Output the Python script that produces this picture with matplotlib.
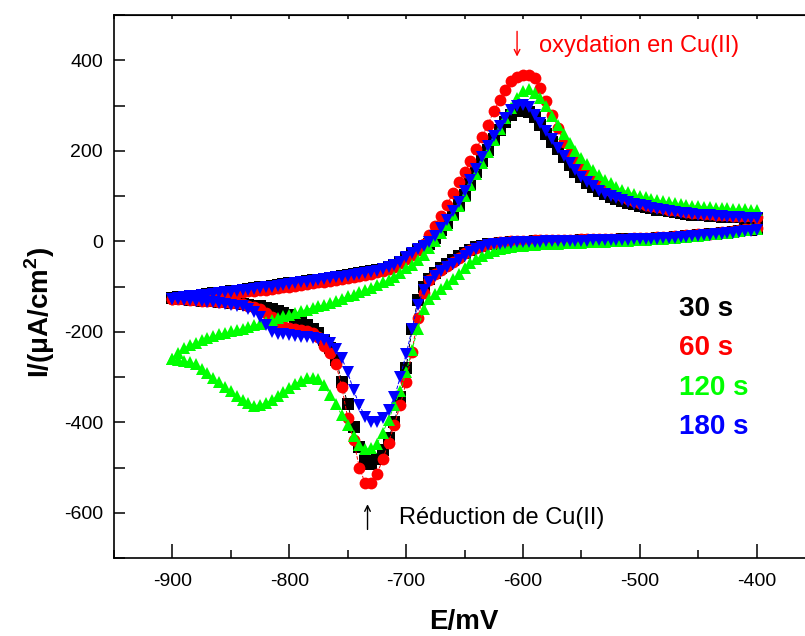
import matplotlib
matplotlib.use("Agg")
import matplotlib.pyplot as plt
from matplotlib.ticker import MultipleLocator

plt.rcParams['font.family'] = ['Liberation Sans', 'DejaVu Sans']
plt.rcParams['mathtext.fontset'] = 'custom'
plt.rcParams['mathtext.rm'] = 'Liberation Sans'
plt.rcParams['mathtext.bf'] = 'Liberation Sans:bold'
plt.rcParams['axes.unicode_minus'] = False

# potential of the cathodic scan (mV), the anodic scan runs back over it
E_cathodic = [-400, -405, -410, -415, -420, -425, -430, -435, -440, -445,
              -450, -455, -460, -465, -470, -475, -480, -485, -490, -495,
              -500, -505, -510, -515, -520, -525, -530, -535, -540, -545,
              -550, -555, -560, -565, -570, -575, -580, -585, -590, -595,
              -600, -605, -610, -615, -620, -625, -630, -635, -640, -645,
              -650, -655, -660, -665, -670, -675, -680, -685, -690, -695,
              -700, -705, -710, -715, -720, -725, -730, -735, -740, -745,
              -750, -755, -760, -765, -770, -775, -780, -785, -790, -795,
              -800, -805, -810, -815, -820, -825, -830, -835, -840, -845,
              -850, -855, -860, -865, -870, -875, -880, -885, -890, -895, -900]
E_anodic = E_cathodic[::-1]

# current densities (uA/cm2)
i30_cath = [27, 25, 24, 22, 21, 19, 18, 16, 15, 14,
            13, 12, 11, 10, 9, 8, 7, 7, 6, 5,
            5, 4, 4, 4, 3, 3, 3, 2, 2, 2,
            2, 1, 1, 1, 1, 0, 0, 0, 0, -1,
            -1, -1, -2, -3, -4, -5, -7, -10, -13, -19,
            -25, -33, -42, -51, -60, -70, -83, -100, -130, -195,
            -280, -345, -400, -435, -462, -482, -493, -485, -455, -410,
            -360, -310, -262, -235, -218, -203, -193, -184, -176, -169,
            -163, -158, -154, -150, -147, -144, -142, -140, -138, -137,
            -136, -135, -134, -133, -132, -131, -130, -129, -128, -127, -126]
i30_anod = [-126, -124, -123, -121, -120, -118, -117, -115, -114, -112,
            -111, -109, -107, -106, -104, -102, -100, -99, -97, -95,
            -93, -92, -90, -88, -86, -85, -83, -81, -79, -77,
            -75, -73, -71, -69, -66, -64, -61, -57, -52, -45,
            -37, -29, -20, -13, -5, 8, 25, 41, 60, 81,
            103, 127, 152, 177, 202, 225, 245, 263, 278, 287,
            290, 285, 274, 257, 238, 220, 203, 186, 169, 154,
            141, 129, 119, 111, 104, 98, 93, 89, 85, 82,
            79, 76, 73, 70, 68, 66, 64, 62, 61, 59,
            58, 57, 56, 55, 54, 54, 53, 53, 52, 52, 51]

i60_cath = [30, 28, 26, 24, 23, 21, 20, 18, 17, 16,
            15, 14, 13, 12, 11, 10, 10, 9, 8, 8,
            7, 7, 6, 6, 5, 5, 5, 4, 4, 4,
            4, 3, 3, 3, 3, 2, 2, 2, 2, 1,
            1, 1, 0, -1, -2, -4, -6, -10, -14, -20,
            -27, -36, -45, -54, -63, -73, -86, -115, -170, -245,
            -312, -362, -405, -445, -482, -515, -535, -535, -500, -440,
            -390, -322, -272, -248, -232, -212, -203, -199, -196, -194,
            -192, -188, -178, -167, -158, -150, -145, -142, -139, -137,
            -136, -135, -134, -133, -132, -131, -130, -129, -128, -127, -127]
i60_anod = [-127, -126, -125, -124, -123, -122, -121, -119, -118, -117,
            -116, -114, -113, -111, -110, -108, -107, -105, -104, -102,
            -100, -98, -97, -95, -93, -91, -89, -87, -85, -83,
            -81, -79, -77, -75, -72, -69, -66, -62, -56, -49,
            -40, -31, -20, -5, 14, 34, 56, 80, 106, 130,
            152, 177, 203, 230, 258, 287, 312, 335, 354, 364,
            368, 367, 360, 338, 310, 280, 250, 220, 196, 178,
            162, 149, 138, 128, 120, 112, 105, 99, 93, 89,
            85, 81, 78, 75, 73, 70, 68, 66, 65, 63,
            62, 61, 60, 59, 58, 57, 56, 56, 55, 55, 54]

i120_cath = [28, 26, 24, 22, 21, 19, 18, 16, 15, 13,
             12, 11, 10, 9, 8, 7, 6, 5, 4, 3,
             2, 2, 1, 1, 0, 0, -1, -1, -2, -2,
             -3, -3, -4, -4, -5, -5, -6, -7, -8, -9,
             -10, -11, -13, -15, -18, -22, -27, -33, -40, -49,
             -60, -72, -84, -95, -106, -117, -128, -150, -195, -240,
             -290, -330, -362, -395, -423, -448, -458, -460, -450, -430,
             -405, -385, -360, -340, -318, -305, -302, -303, -308, -316,
             -325, -333, -341, -350, -357, -362, -363, -358, -350, -342,
             -332, -322, -312, -302, -292, -282, -272, -267, -264, -262, -261]
i120_anod = [-261, -247, -237, -230, -224, -219, -214, -210, -206, -202,
             -199, -196, -193, -190, -186, -182, -178, -174, -170, -166,
             -162, -158, -154, -151, -147, -144, -140, -136, -132, -127,
             -122, -118, -113, -108, -103, -97, -91, -85, -78, -70,
             -60, -52, -42, -30, -16, 0, 18, 37, 58, 79,
             100, 124, 148, 173, 198, 223, 248, 272, 295, 317,
             332, 336, 328, 316, 298, 277, 256, 236, 218, 200,
             183, 170, 158, 146, 136, 128, 120, 114, 109, 104,
             100, 97, 94, 91, 88, 86, 84, 82, 80, 79,
             78, 76, 75, 74, 74, 73, 72, 71, 71, 70, 68]

i180_cath = [25, 23, 22, 20, 19, 18, 17, 15, 14, 13,
             12, 11, 10, 9, 8, 7, 7, 6, 5, 5,
             4, 4, 3, 3, 3, 2, 2, 2, 2, 1,
             1, 1, 1, 0, 0, 0, 0, -1, -1, -2,
             -2, -2, -3, -4, -5, -7, -9, -13, -18, -24,
             -32, -41, -50, -58, -66, -76, -90, -108, -140, -195,
             -250, -300, -345, -372, -390, -400, -400, -388, -362, -328,
             -290, -258, -238, -225, -218, -216, -214, -212, -211, -209,
             -208, -206, -204, -200, -185, -168, -156, -149, -144, -142,
             -140, -138, -137, -135, -134, -133, -131, -130, -129, -128, -127]
i180_anod = [-127, -125, -124, -122, -121, -119, -118, -116, -115, -113,
             -112, -110, -108, -107, -105, -103, -101, -100, -98, -96,
             -94, -93, -91, -89, -87, -86, -84, -82, -80, -78,
             -76, -74, -72, -70, -67, -65, -62, -58, -52, -45,
             -35, -27, -18, -11, -2, 12, 30, 46, 66, 87,
             110, 135, 160, 186, 210, 233, 254, 273, 290, 300,
             302, 296, 280, 262, 243, 225, 207, 189, 172, 157,
             143, 131, 121, 112, 105, 100, 95, 91, 87, 83,
             80, 77, 74, 71, 69, 67, 65, 63, 62, 60,
             59, 58, 57, 56, 55, 54, 53, 53, 52, 52, 51]

labels = ['30 s', '60 s', '120 s', '180 s']
colors = ['#000000', '#ff0000', '#00ff00', '#0000ff']
markers = ['s', 'o', '^', 'v']
sizes = [8, 8.5, 9, 9]
series = [(i30_cath, i30_anod), (i60_cath, i60_anod),
          (i120_cath, i120_anod), (i180_cath, i180_anod)]

fig = plt.figure(figsize=(8.05, 6.36), dpi=100)
ax = fig.add_axes([114 / 805, 1 - 558 / 636, 701 / 805, 543 / 636])

E = E_cathodic + E_anodic
for (cath, anod), c, m, s in zip(series, colors, markers, sizes):
    ax.plot(E, cath + anod, color=c, lw=0.7, ls='--', marker=m,
            markersize=s, markeredgewidth=0)

ax.set_xlim(-950, -350)
ax.set_ylim(-700, 500)
ax.set_xticks([-900, -800, -700, -600, -500, -400])
ax.set_yticks([-600, -400, -200, 0, 200, 400])
ax.xaxis.set_minor_locator(MultipleLocator(50))
ax.yaxis.set_minor_locator(MultipleLocator(100))
ax.tick_params(axis='x', which='major', direction='in', length=10, width=1.1,
               labelsize=14, pad=11)
ax.tick_params(axis='x', which='minor', direction='in', length=6, width=1.1)
ax.tick_params(axis='y', which='both', direction='in', length=8, width=1.1,
               labelsize=14, pad=8)
for sp in ax.spines.values():
    sp.set_linewidth(1.2)

top = ax.secondary_xaxis('top')
top.set_xticks([-900, -800, -700, -600, -500, -400])
top.xaxis.set_minor_locator(MultipleLocator(50))
top.tick_params(which='both', direction='in', length=3, width=1.1,
                labeltop=False)

fig.text(464 / 805, 1 - 622 / 636, 'E/mV', fontsize=20, fontweight='bold',
         ha='center', va='center')
fig.text(40 / 805, 1 - 312 / 636, r'I/($\mathbf{\mu}$A/cm$^\mathbf{2}$)',
         fontsize=20, fontweight='bold', rotation=90, ha='center', va='center')

ax.annotate('', xy=(-605, 402), xytext=(-605, 470),
            arrowprops=dict(arrowstyle='->', color='red', lw=1))
ax.text(-586, 431, 'oxydation en Cu(II)', color='red', fontsize=17,
        va='center')
ax.annotate('', xy=(-733, -575), xytext=(-733, -643),
            arrowprops=dict(arrowstyle='->', color='black', lw=1))
ax.text(-706, -612, 'Réduction de Cu(II)', color='black', fontsize=17,
        va='center')

for k, (lab, c) in enumerate(zip(labels, colors)):
    ax.text(-466, -150 - 87 * k, lab, color=c, fontsize=20, fontweight='bold',
            va='center')

fig.savefig('out.png', dpi=100)
